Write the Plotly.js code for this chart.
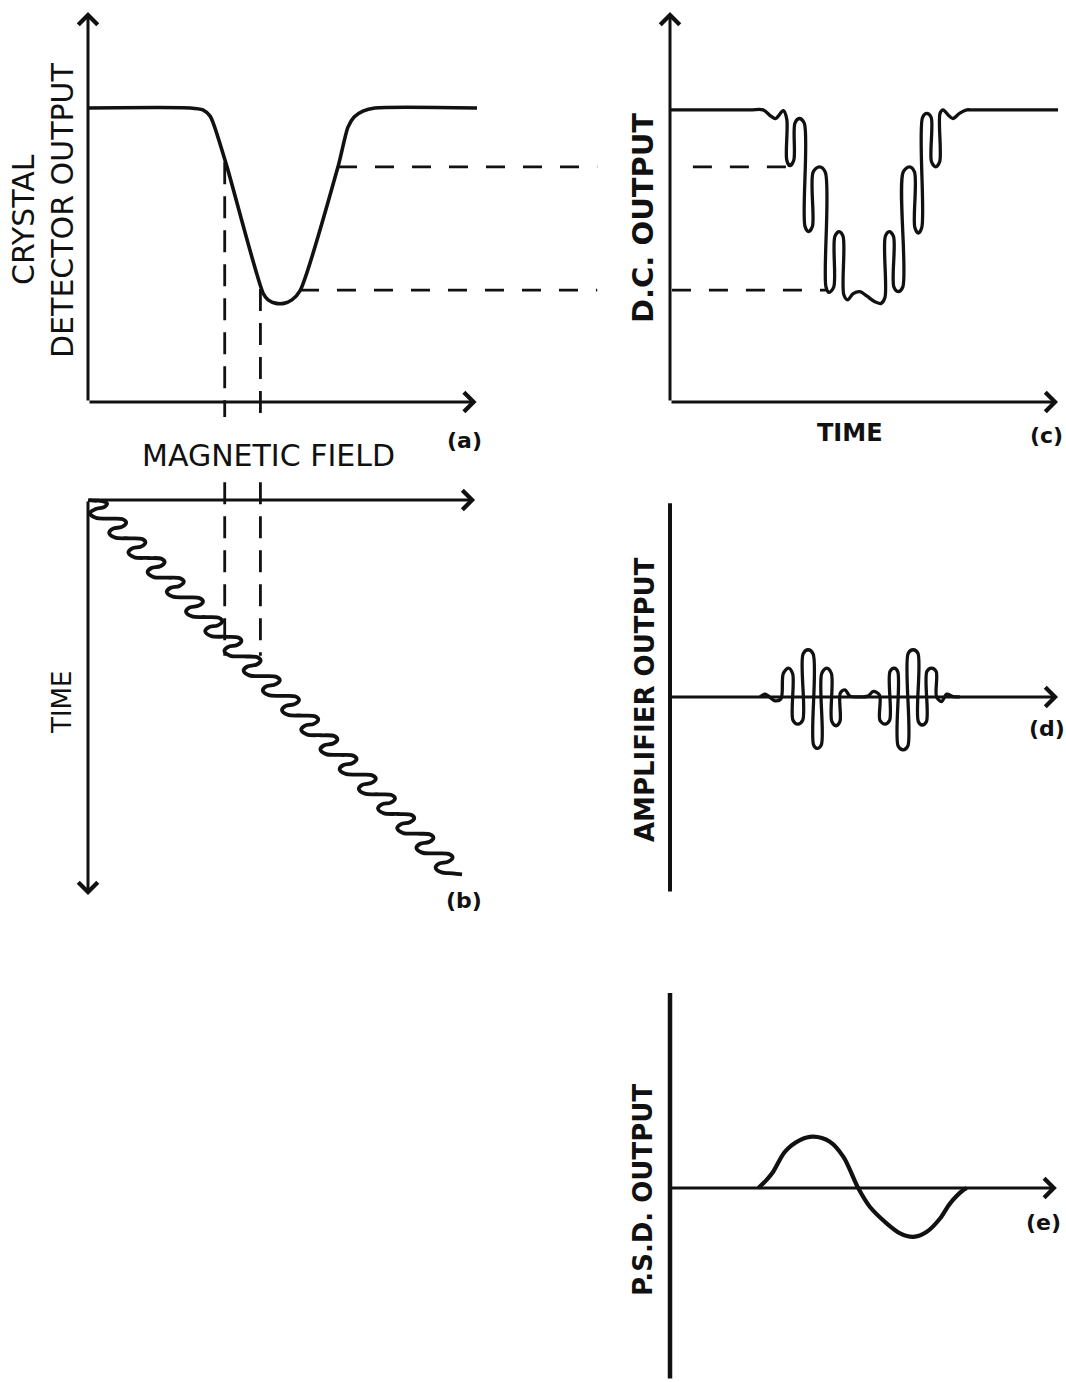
<!DOCTYPE html>
<html>
<head>
<meta charset="utf-8">
<script src="https://cdn.plot.ly/plotly-3.0.1.min.js"></script>
<style>html,body{margin:0;padding:0;background:#fff;}#chart{width:1066px;height:1382px;}</style>
</head>
<body>
<div id="chart"></div>
<script>
// ---------- DATA (arbitrary schematic units) ----------
// (a) crystal detector output vs magnetic field
const fieldA  = [0, 26.6, 29.9, 31.8, 32.8, 36.2, 45.6, 46.9, 49.0, 51.0, 53.1, 55.2, 65.1, 67.7, 69.3, 71.6, 74.7, 101.3];
const outputA = [75.4, 75.4, 74.9, 73.3, 71.0, 60.3, 27.9, 26.2, 25.3, 25.3, 26.2, 28.5, 60.3, 70.5, 73.1, 74.6, 75.4, 75.4];

// (b) modulated field sweep: field vs time (time downwards)
const sweepField = [
  0, 1.5, 3.8, 4.95, 4.2, 2.0,
  0.52, 2.02, 5.72, 9.12, 9.95, 8.82, 6.52,
  5.52, 7.02, 10.72, 14.12, 14.95, 13.82, 11.52,
  10.52, 12.02, 15.72, 19.12, 19.95, 18.82, 16.52,
  15.52, 17.02, 20.72, 24.12, 24.95, 23.82, 21.52,
  20.52, 22.02, 25.72, 29.12, 29.95, 28.82, 26.52,
  25.52, 27.02, 30.72, 34.12, 34.95, 33.82, 31.52,
  30.52, 32.02, 35.72, 39.12, 39.95, 38.82, 36.52,
  35.52, 37.02, 40.72, 44.12, 44.95, 43.82, 41.52,
  40.52, 42.02, 45.72, 49.12, 49.95, 48.82, 46.52,
  45.52, 47.02, 50.72, 54.12, 54.95, 53.82, 51.52,
  50.52, 52.02, 55.72, 59.12, 59.95, 58.82, 56.52,
  55.52, 57.02, 60.72, 64.12, 64.95, 63.82, 61.52,
  60.52, 62.02, 65.72, 69.12, 69.95, 68.82, 66.52,
  65.52, 67.02, 70.72, 74.12, 74.95, 73.82, 71.52,
  70.52, 72.02, 75.72, 79.12, 79.95, 78.82, 76.52,
  75.52, 77.02, 80.72, 84.12, 84.95, 83.82, 81.52,
  80.52, 82.02, 85.72, 89.12, 89.95, 88.82, 86.52,
  85.52, 87.02, 90.72, 94.12, 94.95, 93.82, 91.52,
  90.52, 92.02, 95.0, 97.4
];
const sweepTime = [
  0, 0.03, 0.05, 0.17, 0.36, 0.45,
  0.66, 0.90, 0.94, 0.98, 1.15, 1.36, 1.45,
  1.66, 1.90, 1.94, 1.98, 2.15, 2.36, 2.45,
  2.66, 2.90, 2.94, 2.98, 3.15, 3.36, 3.45,
  3.66, 3.90, 3.94, 3.98, 4.15, 4.36, 4.45,
  4.66, 4.90, 4.94, 4.98, 5.15, 5.36, 5.45,
  5.66, 5.90, 5.94, 5.98, 6.15, 6.36, 6.45,
  6.66, 6.90, 6.94, 6.98, 7.15, 7.36, 7.45,
  7.66, 7.90, 7.94, 7.98, 8.15, 8.36, 8.45,
  8.66, 8.90, 8.94, 8.98, 9.15, 9.36, 9.45,
  9.66, 9.90, 9.94, 9.98, 10.15, 10.36, 10.45,
  10.66, 10.90, 10.94, 10.98, 11.15, 11.36, 11.45,
  11.66, 11.90, 11.94, 11.98, 12.15, 12.36, 12.45,
  12.66, 12.90, 12.94, 12.98, 13.15, 13.36, 13.45,
  13.66, 13.90, 13.94, 13.98, 14.15, 14.36, 14.45,
  14.66, 14.90, 14.94, 14.98, 15.15, 15.36, 15.45,
  15.66, 15.90, 15.94, 15.98, 16.15, 16.36, 16.45,
  16.66, 16.90, 16.94, 16.98, 17.15, 17.36, 17.45,
  17.66, 17.90, 17.94, 17.98, 18.15, 18.36, 18.45,
  18.66, 18.90, 18.95, 19.0
];

// (c) D.C. output vs time
const dcTime = [0, 20.6, 24.0, 26.0, 27.2, 29.2, 30.1, 30.1, 30.9, 31.9, 32.2, 33.3, 34.6, 34.8, 35.7, 36.7,
  36.9, 38.5, 40.0, 40.2, 41.0, 42.2, 42.5, 43.6, 44.6, 44.8, 45.8, 47.2, 49.0, 50.7, 52.8, 54.4, 55.4,
  55.5, 56.5, 57.6, 57.7, 58.8, 60.0, 60.1, 61.7, 63.0, 63.1, 64.0, 64.9, 65.1, 66.2, 67.3, 67.4, 68.5,
  69.5, 69.6, 70.4, 71.7, 72.9, 74.6, 76.5, 78.0, 100];
const dcOutput = [74.9, 74.9, 74.9, 73.3, 72.7, 74.7, 72.5, 62.0, 60.6, 62.0, 71.5, 72.7, 71.5, 45.0, 43.7, 45.0,
  59.0, 60.3, 59.0, 29.5, 28.1, 29.5, 42.5, 43.7, 42.5, 27.5, 26.2, 27.8, 28.3, 27.2, 25.7, 25.3, 26.8,
  42.5, 43.7, 42.5, 29.5, 28.3, 29.5, 59.0, 60.3, 59.0, 44.8, 43.3, 44.8, 73.0, 74.0, 73.0, 61.6, 60.3,
  61.6, 74.0, 74.9, 73.6, 72.7, 74.0, 74.9, 74.9, 74.9];

// (d) amplifier output vs time (zero elsewhere, on the axis)
const ampTime = [23.2, 24.5, 27.1, 28.6, 29.2, 30.5, 31.6, 31.7, 32.9, 34.2, 34.3, 35.6, 36.9, 37.0, 37.9,
  39.0, 39.1, 40.4, 41.6, 41.7, 42.8, 43.8, 43.9, 45.1, 46.4, 48.5, 51.0, 52.4, 54.0, 54.1, 55.4, 56.6,
  56.7, 57.8, 58.7, 58.8, 60.1, 61.3, 61.4, 62.7, 63.9, 64.0, 65.0, 66.1, 66.2, 67.4, 68.6, 68.7, 70.0,
  71.3, 73.0, 74.7];
const ampOutput = [0, 0.7, -1.0, -0.5, 6.0, 7.4, 6.0, -6.0, -7.0, -6.0, 11.0, 12.1, 11.0, -12.3, -13.2,
  -12.3, 6.0, 7.4, 6.0, -6.3, -7.4, -6.3, 1.0, 1.8, 0.2, 0, 0.2, 1.4, 0.5, -6.0, -7.0, -6.0,
  6.5, 7.4, 6.5, -12.6, -13.6, -12.6, 11.2, 12.1, 11.2, -6.3, -7.2, -6.3, 6.5, 7.4, 6.5, 0.0, -1.2,
  0.7, 0.1, 0];

// (e) phase-sensitive detector output vs time (zero elsewhere, on the axis)
const psdTime   = [22.8, 24.9, 26.6, 29.6, 33.5, 36.9, 41.2, 44.7, 48.5, 51.5, 55.9, 59.3, 62.7, 66.2, 69.6, 72.2, 75.6, 76.5];
const psdOutput = [0, 2.1, 4.2, 9.3, 12.3, 13.2, 11.9, 8.0, 0, -4.8, -9.1, -11.6, -12.5, -11.2, -7.8, -3.9, -0.5, 0];

// guide (dashed) lines
const guideFields = [35.6, 44.9];          // field values marked in (a) and (b)
const guideLevelsA = [61.5, 29.0];         // where the verticals leave curve (a)
const guideFootA = -3.85;                  // lower end of verticals in (a)
const guideTopB = -0.91, guideFootB = 7.9; // verticals in (b)
const guideLevels = [60.3, 28.7];          // detector levels carried to (c)
const guideStartA = [65.1, 55.2];          // field where horizontals leave curve (a)
const guideEndA = 132.6;
const guideStartC = [5.9, 0.5];
const guideEndC = [30.2, 40.2];

// axis extents
const axA = {x: 101.2, y: 100};
const axB = {x: 100.8, y: 20.05};
const axC = {x: 100, y: 100};
const axD = {x: 100, yTop: 49.7, yBot: -50.3};
const axE = {x: 99.7, yTop: 50, yBot: -49.2};

// ---------- TRACES ----------
const K = '#111';
const traces = [];
function line(x, y, xa, ya, opts) {
  traces.push(Object.assign({type: 'scatter', mode: 'lines', x: x, y: y, xaxis: xa, yaxis: ya,
    hoverinfo: 'skip', line: Object.assign({color: K, width: 3}, opts || {})}));
}
line(fieldA, outputA, 'x', 'y', {width: 3.6, shape: 'spline', smoothing: 0.7});
line(sweepField, sweepTime, 'x', 'y2', {width: 3.8, shape: 'spline', smoothing: 1});
line(dcTime, dcOutput, 'x2', 'y', {width: 3.3, shape: 'spline', smoothing: 0.9});
line(ampTime, ampOutput, 'x2', 'y3', {width: 3.3, shape: 'spline', smoothing: 0.9});
line(psdTime, psdOutput, 'x2', 'y4', {width: 4.2, shape: 'spline', smoothing: 0.9});

const vdash = {width: 2.8, dash: '22px,12px'};
const hdash = {width: 2.8, dash: '19px,18px'};
for (let i = 0; i < 2; i++) {
  line([guideFields[i], guideFields[i]], [guideLevelsA[i], guideFootA], 'x', 'y', vdash);
  line([guideFields[i], guideFields[i]], [guideTopB, guideFootB], 'x', 'y2', vdash);
  line([guideStartA[i], guideEndA], [guideLevels[i], guideLevels[i]], 'x', 'y', hdash);
  line([guideStartC[i], guideEndC[i]], [guideLevels[i], guideLevels[i]], 'x2', 'y', hdash);
}

// ---------- AXES as arrows ----------
const ann = [];
function arrow(xr, yr, x0, y0, x1, y1, head, w) {
  ann.push({xref: xr, yref: yr, axref: xr, ayref: yr, x: x1, y: y1, ax: x0, ay: y0, text: '',
    showarrow: true, arrowhead: head, arrowsize: head ? 1.25 : 1, arrowwidth: w || 3, arrowcolor: K,
    standoff: 0, startstandoff: 0});
}
arrow('x', 'y', 0, 0, 0, axA.y, 4);
arrow('x', 'y', 0, 0, axA.x, 0, 4);
arrow('x', 'y2', 0, 0, axB.x, 0, 4);
arrow('x', 'y2', 0, 0, 0, axB.y, 4);
arrow('x2', 'y', 0, 0, 0, axC.y, 4);
arrow('x2', 'y', 0, 0, axC.x, 0, 4);
arrow('x2', 'y3', 0, axD.yBot, 0, axD.yTop, 0, 4);
arrow('x2', 'y3', 0, 0, axD.x, 0, 4);
arrow('x2', 'y4', 0, axE.yBot, 0, axE.yTop, 0, 4.5);
arrow('x2', 'y4', 0, 0, axE.x, 0, 4);

// ---------- LABELS ----------
const W = 1066, H = 1382;
function label(text, px, py, size, bold, angle) {
  ann.push({xref: 'paper', yref: 'paper', x: px / W, y: 1 - py / H, xanchor: 'center', yanchor: 'middle',
    text: text, showarrow: false, textangle: angle || 0,
    font: {family: 'DejaVu Sans', size: size, color: K, weight: bold ? 'bold' : 'normal'}});
}
label('CRYSTAL', 23, 220, 30, false, -90);
label('DETECTOR OUTPUT', 62, 210, 30, false, -90);
label('MAGNETIC FIELD', 268, 455, 30, false);
label('(a)', 464, 440, 22, true);
label('TIME', 62, 703, 26, false, -90);
label('(b)', 464, 900, 22, true);
label('D.C. OUTPUT', 643, 218, 29, true, -90);
label('TIME', 850, 433, 24, true);
label('(c)', 1046, 435, 22, true);
label('AMPLIFIER OUTPUT', 645, 700, 26, true, -90);
label('(d)', 1047, 729, 22, true);
label('P.S.D. OUTPUT', 643, 1190, 26, true, -90);
label('(e)', 1043, 1222, 22, true);

// ---------- LAYOUT ----------
const hidden = {visible: false, fixedrange: true};
const layout = {
  width: W, height: H, margin: {l: 0, r: 0, t: 0, b: 0},
  paper_bgcolor: '#fff', plot_bgcolor: 'rgba(0,0,0,0)', showlegend: false,
  xaxis:  Object.assign({domain: [40 / W, 600 / W], range: [-12.5, 133.33], anchor: 'y'}, hidden),
  yaxis:  Object.assign({domain: [1 - 420 / H, 1 - 5 / H], range: [-4.6, 101.8], anchor: 'x'}, hidden),
  yaxis2: Object.assign({domain: [1 - 905 / H, 1 - 480 / H], range: [20.56, -1.02], anchor: 'x'}, hidden),
  xaxis2: Object.assign({domain: [600 / W, 1], range: [-18.04, 102.06], anchor: 'y'}, hidden),
  yaxis3: Object.assign({domain: [1 - 900 / H, 1 - 495 / H], range: [-52.1, 51.8], anchor: 'x2'}, hidden),
  yaxis4: Object.assign({domain: [0, 1 - 985 / H], range: [-49.7, 52.05], anchor: 'x2'}, hidden),
  annotations: ann
};
Plotly.newPlot('chart', traces, layout, {staticPlot: true, displayModeBar: false});
</script>
</body>
</html>
